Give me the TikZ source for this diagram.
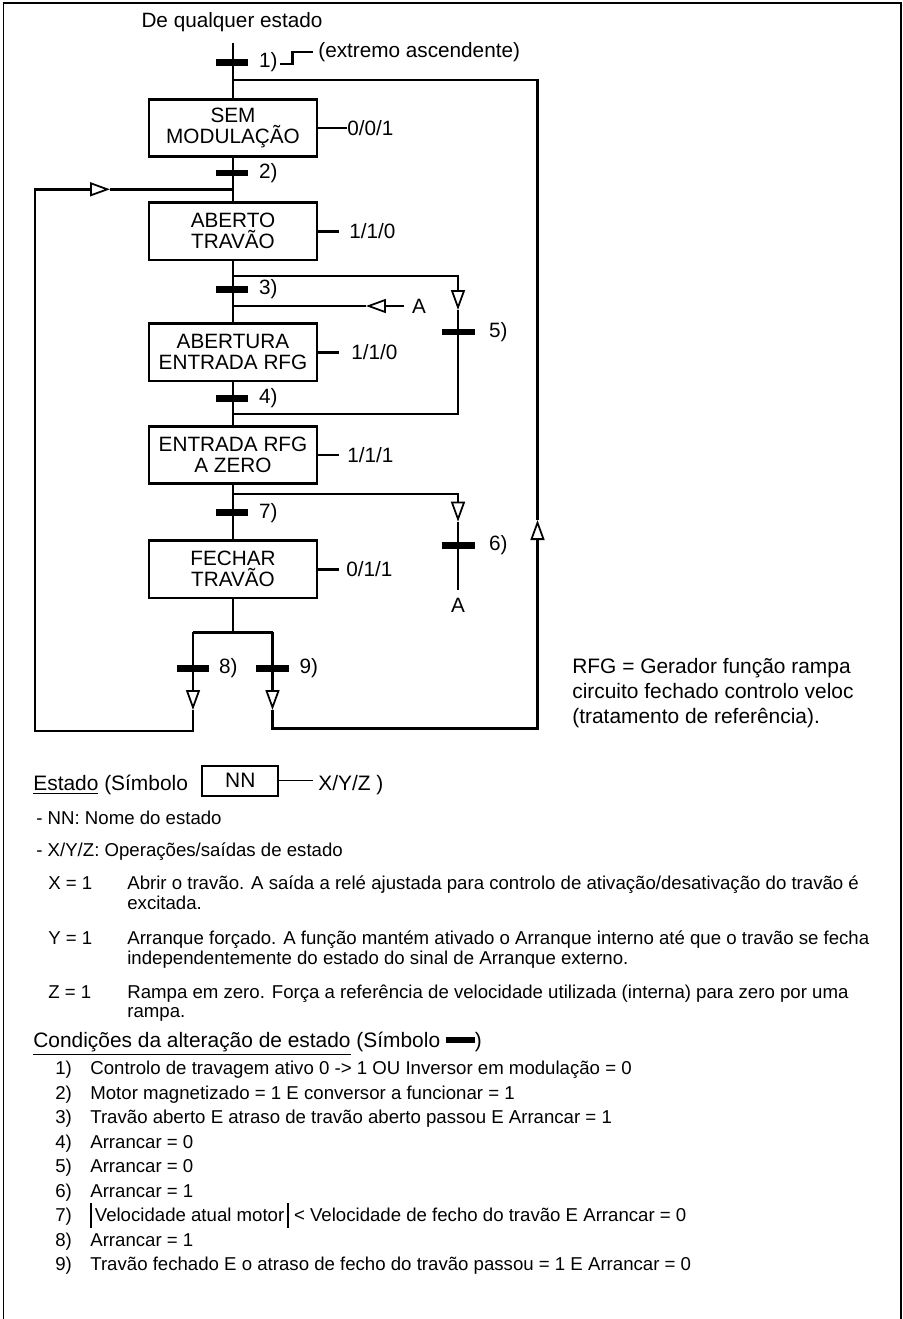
\documentclass[tikz,border=0pt]{standalone}
\usepackage{fontspec}
\setmainfont{Liberation Sans}
\usepackage{tikz}
\usetikzlibrary{arrows.meta,positioning,calc}

\begin{document}
\begin{tikzpicture}[x=0.02cm, y=-0.02cm,
  flow/.style={line width=1.5pt},
  statebox/.style={rectangle, draw, line width=1.5pt, minimum width=3.36cm,
    minimum height=1.15cm, align=center, inner sep=0pt,
    font=\fontsize{11.8pt}{11.9pt}\selectfont},
  transbar/.style={rectangle, fill=black, minimum width=0.66cm,
    minimum height=0.13cm, inner sep=0pt},
  tlbl/.style={inner sep=0pt, font=\fontsize{11.8pt}{14pt}\selectfont},
  outlbl/.style={inner sep=0pt, anchor=west, font=\fontsize{11.8pt}{14pt}\selectfont},
  opentip/.style={-{Triangle[length=0.4cm, width=0.28cm, fill=white, line width=1pt]}},
  head/.style={inner sep=0pt, anchor=base west, font=\fontsize{11.9pt}{14pt}\selectfont},
  body/.style={inner sep=0pt, anchor=base west, font=\fontsize{10.6pt}{12pt}\selectfont}]
  \useasboundingbox (0,0) rectangle (903,1319);
  % frame, open at the bottom
  \draw[line width=0.6pt] (3.5,1319) -- (3.5,3) -- (901,3) -- (901,1319);

  % states
  \node[tlbl, anchor=base] (orig) at (232,27) {De qualquer estado};
  \coordinate (top) at (233,43);
  \node[statebox] (s0) at (233,128) {SEM\\MODULAÇÃO};
  \node[statebox] (s1) at (233,231.3) {ABERTO\\TRAVÃO};
  \node[statebox] (s2) at (233,352.2) {ABERTURA\\ENTRADA RFG};
  \node[statebox] (s3) at (233,455) {ENTRADA RFG\\A ZERO};
  \node[statebox] (s4) at (233,569.2) {FECHAR\\TRAVÃO};

  % outputs X/Y/Z
  \node[outlbl] (o0) at (347,128) {0/0/1};
  \node[outlbl] (o1) at (349,231.3) {1/1/0};
  \node[outlbl] (o2) at (351,352.2) {1/1/0};
  \node[outlbl] (o3) at (347,455) {1/1/1};
  \node[outlbl] (o4) at (346,569.2) {0/1/1};
  \draw[flow] (s0.east) -- (o0.west);
  \draw[flow] (s1.east) -- ([xshift=-0.2cm]o1.west);
  \draw[flow] (s2.east) -- ([xshift=-0.24cm]o2.west);
  \draw[flow] (s3.east) -- ([xshift=-0.16cm]o3.west);
  \draw[flow] (s4.east) -- ([xshift=-0.14cm]o4.west);

  % corners and junctions
  \coordinate (j1) at (233,80);
  \coordinate (rt) at (537.5,80);
  \coordinate (rb) at (537.5,728.5);
  \coordinate (ua) at (537.5,520);
  \coordinate (j2) at (233,189.3);
  \coordinate (lt) at (35,189.3);
  \coordinate (la) at (110,189.3);
  \coordinate (lb) at (35,731);
  \coordinate (j3) at (233,276);
  \coordinate (r3) at (458,276);
  \coordinate (a5) at (458,310);
  \coordinate (r4) at (458,414);
  \coordinate (j4) at (233,414);
  \coordinate (j3a) at (233,306);
  \coordinate (aa) at (366,306);
  \coordinate (j7) at (233,494);
  \coordinate (r7) at (458,494);
  \coordinate (a6) at (458,521.7);
  \coordinate (j9) at (233,632.3);
  \coordinate (b8) at (193,632.3);
  \coordinate (b9) at (272.5,632.3);
  \coordinate (d8) at (193,710);
  \coordinate (d9) at (272.5,710);
  \coordinate (e8) at (193,731);
  \coordinate (e9) at (272.5,728.5);
  \node[tlbl] (aA) at (419,306) {A};
  \node[tlbl] (aB) at (458,605) {A};

  % main column
  \draw[line width=0.6pt] (top) -- (s0.north);
  \draw[flow] (s0.south) -- (s1.north);
  \draw[flow] (s1.south) -- (s2.north);
  \draw[flow] (s2.south) -- (s3.north);
  \draw[flow] (s3.south) -- (s4.north);
  \draw[flow] (s4.south) -- (j9);
  \draw[flow] (b8) -- (b9);

  % loops
  \draw[flow] (ua) -- (rt) -- (j1);
  \draw[flow, opentip] (b9) -- (d9);
  \draw[flow, opentip] (d9) -- (e9) -- (rb) -- (ua);
  \draw[flow, opentip] (b8) -- (d8);
  \draw[flow, opentip] (d8) -- (e8) -- (lb) -- (lt) -- (la);
  \draw[flow] (la) -- (j2);
  \draw[flow, opentip] (j3) -- (r3) -- (a5);
  \draw[flow] (a5) -- (r4) -- (j4);
  \draw[flow, opentip] ([xshift=-0.15cm]aA.west) -- (aa);
  \draw[flow] (aa) -- (j3a);
  \draw[flow, opentip] (j7) -- (r7) -- (a6);
  \draw[flow] (a6) -- ([yshift=0.16cm]aB.north);

  % transitions
  \node[transbar] (t1) at (232,62.5) {};
  \node[transbar] (t2) at (232,173) {};
  \node[transbar] (t3) at (232,289.5) {};
  \node[transbar] (t4) at (232,398.3) {};
  \node[transbar] (t5) at (458,332) {};
  \node[transbar] (t6) at (458,545.5) {};
  \node[transbar] (t7) at (232,512.7) {};
  \node[transbar] (t8) at (193,668.3) {};
  \node[transbar] (t9) at (272.5,668.3) {};
  \node[tlbl, right=0.2cm of t1] (l1) {1)};
  \node[tlbl, right=0.2cm of t2] (l2) {2)};
  \node[tlbl, right=0.2cm of t3] (l3) {3)};
  \node[tlbl, right=0.2cm of t4] (l4) {4)};
  \node[tlbl, right=0.28cm of t5] (l5) {5)};
  \node[tlbl, right=0.28cm of t6] (l6) {6)};
  \node[tlbl, right=0.2cm of t7] (l7) {7)};
  \node[tlbl, right=0.18cm of t8] (l8) {8)};
  \node[tlbl, right=0.2cm of t9] (l9) {9)};

  % rising edge
  \node[tlbl, anchor=west] (ext) at (318,52) {(extremo ascendente)};
  \draw[flow] ([shift={(0.04cm,-0.03cm)}]l1.east) -| ([xshift=-0.51cm]ext.west)
    -- ([xshift=-0.1cm]ext.west);

  \node[inner sep=0pt, anchor=west, align=left,
    font=\fontsize{11.9pt}{14.2pt}\selectfont] (rfg) at (572,693)
    {RFG = Gerador função rampa\\circuito fechado controlo veloc\\(tratamento de referência).};

  % legend
  \node[head] (est) at (33,790.5) {\underline{Estado} (Símbolo};
  \node[draw, line width=1.1pt, minimum width=1.52cm, minimum height=0.6cm,
    inner sep=0pt, font=\fontsize{11.9pt}{14pt}\selectfont] (nn) at (240.3,780.7) {NN};
  \node[head] (xyz) at (318,790.5) {X/Y/Z )};
  \draw[line width=0.6pt, shorten >=0.1cm] (nn.east) -- (nn.east -| xyz.west);

  \node[body] (n1) at (36,824.7) {- NN: Nome do estado};
  \node[body] (n2) at (36,856.7) {- X/Y/Z: Operações/saídas de estado};
  \node[body] (xk) at (48,889.7) {X = 1};
  \node[body] (xt) at (127,889.7) {Abrir o travão. A saída a relé ajustada para controlo de ativação/desativação do travão é};
  \node[body] (xt2) at (127,909.7) {excitada.};
  \node[body] (yk) at (48,944.3) {Y = 1};
  \node[body] (yt) at (127,944.3) {Arranque forçado. A função mantém ativado o Arranque interno até que o travão se fecha};
  \node[body] (yt2) at (127,964) {independentemente do estado do sinal de Arranque externo.};
  \node[body] (zk) at (48,998) {Z = 1};
  \node[body] (zt) at (127,998) {Rampa em zero. Força a referência de velocidade utilizada (interna) para zero por uma};
  \node[body] (zt2) at (127,1017.5) {rampa.};

  \node[head] (cond) at (33,1047.5) {\underline{Condições da alteração de estado} (Símbolo \rule[0.09cm]{0.58cm}{0.12cm})};

  \node[body] (k1) at (55,1074.7) {1)};
  \node[body] (c1) at (90,1074.7) {Controlo de travagem ativo 0 -> 1 OU Inversor em modulação = 0};
  \node[body] (k2) at (55,1099.2) {2)};
  \node[body] (c2) at (90,1099.2) {Motor magnetizado = 1 E conversor a funcionar = 1};
  \node[body] (k3) at (55,1123.7) {3)};
  \node[body] (c3) at (90,1123.7) {Travão aberto E atraso de travão aberto passou E Arrancar = 1};
  \node[body] (k4) at (55,1148.2) {4)};
  \node[body] (c4) at (90,1148.2) {Arrancar = 0};
  \node[body] (k5) at (55,1172.7) {5)};
  \node[body] (c5) at (90,1172.7) {Arrancar = 0};
  \node[body] (k6) at (55,1197.2) {6)};
  \node[body] (c6) at (90,1197.2) {Arrancar = 1};
  \node[body] (k7) at (55,1221.7) {7)};
  \node[body] (c7) at (90,1221.7) {\rule[-0.12cm]{0.8pt}{0.5cm}\,Velocidade atual motor\,\rule[-0.12cm]{0.8pt}{0.5cm}\ < Velocidade de fecho do travão E Arrancar = 0};
  \node[body] (k8) at (55,1246.2) {8)};
  \node[body] (c8) at (90,1246.2) {Arrancar = 1};
  \node[body] (k9) at (55,1270.7) {9)};
  \node[body] (c9) at (90,1270.7) {Travão fechado E o atraso de fecho do travão passou = 1 E Arrancar = 0};
\end{tikzpicture}
\end{document}
